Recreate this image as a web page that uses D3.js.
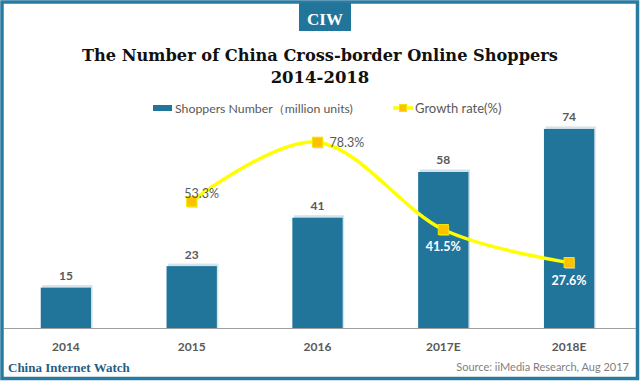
<!DOCTYPE html>
<html><head><meta charset="utf-8">
<script src="https://cdn.jsdelivr.net/npm/d3@7/dist/d3.min.js"></script>
<style>html,body{margin:0;padding:0;background:#fff;}svg{display:block;}</style>
</head><body>
<script>
const categories = ["2014", "2015", "2016", "2017E", "2018E"];
const shoppers = [15, 23, 41, 58, 74];
const growthCats = ["2015", "2016", "2017E", "2018E"];
const growthRate = [53.3, 78.3, 41.5, 27.6];
const growthLabels = ["53.3%", "78.3%", "41.5%", "27.6%"];

const W = 640, H = 383;
const svg = d3.select("body").append("svg").attr("width", W).attr("height", H);
const teal = "#21759B", gray = "#595959";
const sans = "Lato, 'Open Sans', sans-serif";
const serif = "'DejaVu Serif', 'Liberation Serif', serif";
const serif2 = "'Liberation Serif', 'DejaVu Serif', serif";

svg.append("rect").attr("width", W).attr("height", H).attr("fill", "#fff");
// frame
svg.append("rect").attr("x", 2).attr("y", 2).attr("width", 635.5).attr("height", 376.5)
  .attr("fill", "none").attr("stroke", "#2A7BA1").attr("stroke-width", 3.5);
// CIW badge
svg.append("rect").attr("x", 299).attr("y", 3).attr("width", 52).attr("height", 28).attr("fill", teal);
svg.append("text").attr("x", 325).attr("y", 25).attr("text-anchor", "middle")
  .attr("font-family", serif2).attr("font-weight", "bold").attr("font-size", 17).attr("fill", "#fff").text("CIW");

// title
svg.append("text").attr("x", 320).attr("y", 61).attr("text-anchor", "middle")
  .attr("font-family", serif).attr("font-weight", "bold").attr("font-size", 16.5).attr("fill", "#111")
  .attr("textLength", 476).attr("lengthAdjust", "spacingAndGlyphs")
  .text("The Number of China Cross-border Online Shoppers");
svg.append("text").attr("x", 320).attr("y", 83).attr("text-anchor", "middle")
  .attr("font-family", serif).attr("font-weight", "bold").attr("font-size", 16.5).attr("fill", "#111")
  .text("2014-2018");

// scales
const x = d3.scaleBand().domain(categories).range([3, 632]).paddingInner(0.6).paddingOuter(0.3);
const yBar = d3.scaleLinear().domain([0, 80]).range([328, 112.8]);
const yLine = d3.scaleLinear().domain([0, 100]).range([328, 90.7]);

// bars with subtle shadow
const bars = svg.append("g");
bars.selectAll("rect.sh").data(shoppers).join("rect").attr("class", "sh")
  .attr("x", (d, i) => x(categories[i]) + 1.5).attr("y", d => yBar(d) - 2.5)
  .attr("width", x.bandwidth()).attr("height", d => yBar(0) - yBar(d) + 2.5)
  .attr("fill", "#d5e3ea");
bars.selectAll("rect.bar").data(shoppers).join("rect").attr("class", "bar")
  .attr("x", (d, i) => x(categories[i])).attr("y", d => yBar(d))
  .attr("width", x.bandwidth()).attr("height", d => yBar(0) - yBar(d))
  .attr("fill", teal);
bars.selectAll("text").data(shoppers).join("text")
  .attr("x", (d, i) => x(categories[i]) + x.bandwidth() / 2).attr("y", d => yBar(d) - 7.5)
  .attr("text-anchor", "middle").attr("font-family", sans).attr("font-weight", "bold")
  .attr("font-size", 12).attr("fill", gray).text(d => d);

// x axis
const xAxis = svg.append("g").attr("transform", "translate(0,328)")
  .call(d3.axisBottom(x).tickSize(0).tickPadding(14));
xAxis.select(".domain").attr("stroke", "#a0a0a0").attr("d", "M4,0.5H636");
xAxis.selectAll("text").attr("font-family", sans).attr("font-weight", "bold").attr("font-size", 12).attr("fill", gray);

// growth line
const pts = growthRate.map((v, i) => [x(growthCats[i]) + x.bandwidth() / 2, yLine(v)]);
svg.append("path").attr("d", d3.line().curve(d3.curveCardinal.tension(0))(pts))
  .attr("fill", "none").attr("stroke", "#FFFF00").attr("stroke-width", 3.5);
svg.append("g").selectAll("rect").data(pts).join("rect")
  .attr("x", d => d[0] - 5 + 1).attr("y", d => d[1] - 5 + 1.5).attr("width", 10).attr("height", 10)
  .attr("fill", "#c8c8c8").attr("opacity", 0.6);
svg.append("g").selectAll("rect").data(pts).join("rect")
  .attr("x", d => d[0] - 5).attr("y", d => d[1] - 5).attr("width", 10).attr("height", 10)
  .attr("fill", "#FFC000").attr("stroke", "#F2E600").attr("stroke-width", 1);

const lblOff = [[10, -4, "middle", gray], [12, 5, "start", gray], [0, 21, "middle", "#fff"], [0, 22, "middle", "#fff"]];
svg.append("g").selectAll("text").data(pts).join("text")
  .attr("x", (d, i) => d[0] + lblOff[i][0]).attr("y", (d, i) => d[1] + lblOff[i][1])
  .attr("text-anchor", (d, i) => lblOff[i][2]).attr("fill", (d, i) => lblOff[i][3])
  .attr("font-family", sans).attr("font-weight", (d, i) => i >= 2 ? "bold" : "normal").attr("font-size", 12.5)
  .text((d, i) => growthLabels[i]);

// legend
const lg = svg.append("g");
lg.append("rect").attr("x", 153).attr("y", 105).attr("width", 19).attr("height", 6).attr("fill", teal);
lg.append("text").attr("x", 175).attr("y", 113).attr("font-family", sans).attr("font-size", 12.3)
  .attr("fill", gray).text("Shoppers Number（million units)");
lg.append("line").attr("x1", 393).attr("x2", 413).attr("y1", 108).attr("y2", 108)
  .attr("stroke", "#FFFF00").attr("stroke-width", 3.5);
lg.append("rect").attr("x", 399.5).attr("y", 104.5).attr("width", 7).attr("height", 7)
  .attr("fill", "#FFC000").attr("stroke", "#F2E600");
lg.append("text").attr("x", 415).attr("y", 113).attr("font-family", sans).attr("font-size", 13)
  .attr("fill", gray).text("Growth rate(%)");

// footer
svg.append("text").attr("x", 8).attr("y", 372).attr("font-family", serif2).attr("font-weight", "bold")
  .attr("font-size", 13).attr("fill", "#1F5F86").text("China Internet Watch");
svg.append("text").attr("x", 629).attr("y", 371).attr("text-anchor", "end").attr("font-family", sans)
  .attr("font-size", 11).attr("fill", "#7f7f7f").text("Source: iiMedia Research, Aug 2017");
</script>
</body></html>
